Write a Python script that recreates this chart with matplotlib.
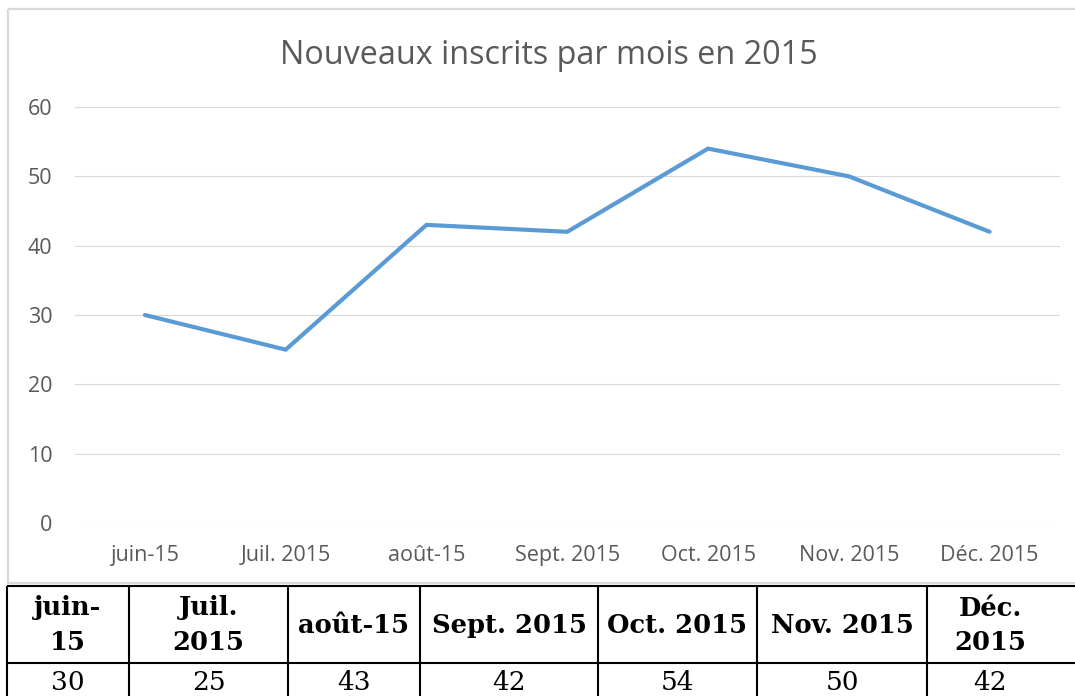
import matplotlib
matplotlib.use("Agg")
import matplotlib.pyplot as plt
from matplotlib.patches import Rectangle

# donnees
mois = ["juin-15", "Juil. 2015", "août-15", "Sept. 2015", "Oct. 2015", "Nov. 2015", "Déc. 2015"]
entetes = ["juin-\n15", "Juil.\n2015", "août-15", "Sept. 2015", "Oct. 2015", "Nov. 2015", "Déc.\n2015"]
inscrits = [30, 25, 43, 42, 54, 50, 42]
titre = "Nouveaux inscrits par mois en 2015"

W, H = 1075, 696
GRIS = "#595959"
GRILLE = "#d9d9d9"
BLEU = "#5B9BD5"

fig = plt.figure(figsize=(W / 100, H / 100), dpi=100)

# calque en pixels pour le cadre et le tableau
bg = fig.add_axes([0, 0, 1, 1], zorder=0)
bg.set_xlim(0, W)
bg.set_ylim(H, 0)
bg.axis("off")
bg.add_patch(Rectangle((8, 9), W + 20, 574, fill=False, edgecolor=GRILLE, lw=1.6))

# graphique
ax = fig.add_axes([74.5 / W, 1 - 523 / H, (1060 - 74.5) / W, (523 - 107) / H], zorder=1)
ax.patch.set_alpha(0)
x = list(range(len(mois)))
ax.plot(x, inscrits, color=BLEU, lw=3, solid_joinstyle="miter", solid_capstyle="round")
ax.set_xlim(-0.5, len(mois) - 0.5)
ax.set_ylim(0, 60)
ax.set_yticks(range(0, 61, 10))
ax.set_xticks(x)
ax.set_xticklabels(mois)
ax.grid(axis="y", color=GRILLE, lw=0.8)
ax.set_axisbelow(True)
for s in ax.spines.values():
    s.set_visible(False)
ax.tick_params(axis="both", length=0, colors=GRIS, labelsize=15.5)
ax.tick_params(axis="y", pad=16)
ax.tick_params(axis="x", pad=16)
for lab in ax.get_xticklabels() + ax.get_yticklabels():
    lab.set_fontfamily("Open Sans")
fig.text(549 / W, 1 - 55 / H, titre, ha="center", va="center",
         fontsize=23.3, color=GRIS, family="Open Sans")

# tableau sous le graphique
bords = [7, 129, 288, 420, 598, 757, 927, W + 10]
y_haut, y_mil, y_bas = 586, 663, H + 20
for y in (y_haut, y_mil):
    bg.plot([bords[0], bords[-1]], [y, y], color="black", lw=1.5, solid_capstyle="butt")
for xb in bords:
    bg.plot([xb, xb], [y_haut, y_bas], color="black", lw=1.5, solid_capstyle="butt")
for i, (ent, val) in enumerate(zip(entetes, inscrits)):
    xc = (bords[i] + bords[i + 1]) / 2
    if i == len(entetes) - 1:
        xc = 990
    bg.text(xc, (y_haut + y_mil) / 2 + 1, ent, ha="center", va="center", fontsize=18.5,
            fontweight="bold", family="DejaVu Serif", linespacing=1.5)
    bg.text(xc, 683, str(val), ha="center", va="center", fontsize=19, family="DejaVu Serif")

fig.savefig("out.png", dpi=100)
